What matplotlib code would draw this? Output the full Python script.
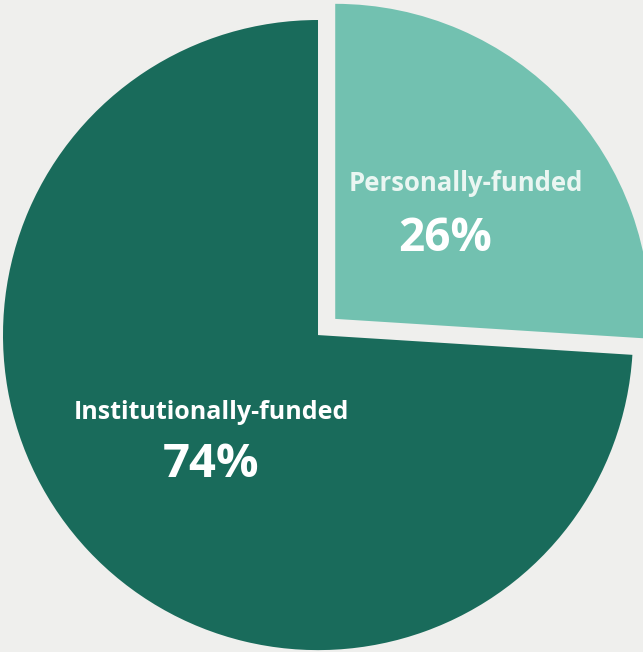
import matplotlib.pyplot as plt

# Funding split
labels = ["Personally-funded", "Institutionally-funded"]
shares = [26, 74]
colors = ["#72c1b0", "#196b5b"]

fig = plt.figure(figsize=(6.43, 6.52), dpi=100)
fig.patch.set_facecolor("#efefed")
ax = fig.add_axes([0, 0, 1, 1])
ax.set_facecolor("#efefed")

wedges, _ = ax.pie(shares, colors=colors, startangle=90, counterclock=False,
                   explode=[0.075, 0], radius=1.0,
                   wedgeprops=dict(linewidth=0))

ax.set_xlim(-1.0095, 1.0317)
ax.set_ylim(-1.006, 1.0635)
ax.set_aspect("auto")
ax.axis("off")

# slice labels
ax.text(0.47, 0.48, labels[0], color="#eaf6f2", fontsize=18.5,
        fontweight="bold", family="Open Sans", ha="center", va="center")
ax.text(0.405, 0.305, f"{shares[0]}%", color="white", fontsize=33,
        fontweight="bold", family="Open Sans", ha="center", va="center")
ax.text(-0.337, -0.245, labels[1], color="white", fontsize=18,
        fontweight="bold", family="Open Sans", ha="center", va="center")
ax.text(-0.34, -0.41, f"{shares[1]}%", color="white", fontsize=34,
        fontweight="bold", family="Open Sans", ha="center", va="center")

fig.savefig("out.png", dpi=100, facecolor=fig.get_facecolor())
